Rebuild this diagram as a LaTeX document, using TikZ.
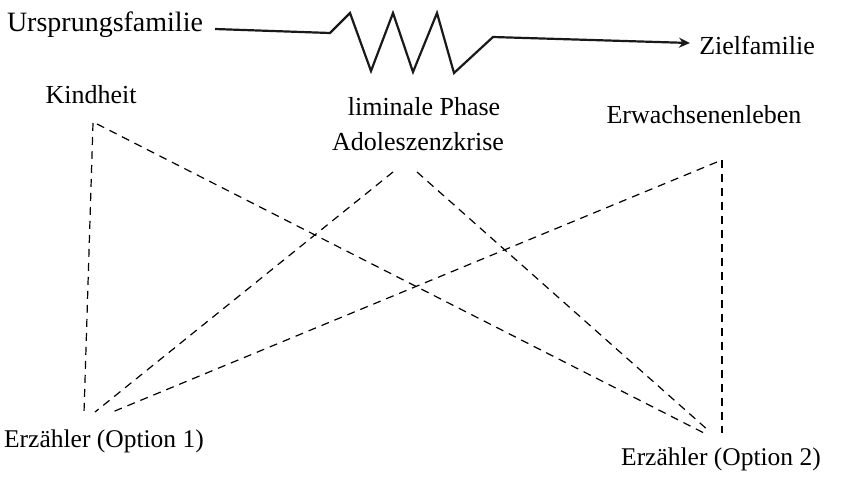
\documentclass[tikz,border=0pt]{standalone}
\usepackage{fontspec}
\setmainfont{Liberation Serif}
\usetikzlibrary{arrows.meta}
\begin{document}
\begin{tikzpicture}[x=1pt,y=-1pt,
  lbl/.style={inner sep=0pt,anchor=base,font=\fontsize{26}{30}\selectfont},
  lblsmall/.style={inner sep=0pt,anchor=base,font=\fontsize{25.5}{29}\selectfont},
  dline/.style={draw=black,line width=1.2pt,dash pattern=on 8pt off 6pt},
  zig/.style={draw=black!90,line width=2.2pt,line join=miter}]
\useasboundingbox (0,0) rectangle (846,477);
\fill[white] (0,0) rectangle (846,477);
% labels
\node[lbl,font=\fontsize{28}{32}\selectfont] (urs) at (105,31) {Ursprungsfamilie};
\node[lbl] (ziel) at (757,54) {Zielfamilie};
\node[lbl] (kind) at (91,103) {Kindheit};
\node[lbl] (lim) at (424,115) {liminale Phase};
\node[lbl] (ado) at (418,150) {Adoleszenzkrise};
\node[lbl] (erw) at (704,123) {Erwachsenenleben};
\node[lblsmall] (erz1) at (104,447) {Erzähler (Option 1)};
\node[lblsmall] (erz2) at (721,465) {Erzähler (Option 2)};
% line end points
\coordinate (zs) at (215,29);
\coordinate (ze) at (690,43);
\coordinate (kt) at (93,123);
\coordinate (kd) at (97,124);
\coordinate (lt1) at (393,172);
\coordinate (lt2) at (417,172);
\coordinate (et) at (722,160);
\coordinate (ed) at (717,162);
\coordinate (b1v) at (84,413);
\coordinate (b1a) at (95,412);
\coordinate (b1b) at (110,413);
\coordinate (b2v) at (722,433);
\coordinate (b2a) at (704,433);
\coordinate (b2b) at (709,431);
% zigzag arrow
\draw[zig,-{Stealth[length=11pt,width=10pt]}] (zs) -- (330,33) -- (350,13) -- (371,71) -- (393,13) -- (413,72) -- (437,13) -- (454,73) -- (493,37) -- (ze);
% dashed connectors
\draw[dline] (kt) -- (b1v);
\draw[dline] (kd) -- (b2a);
\draw[dline] (lt1) -- (b1a);
\draw[dline] (lt2) -- (b2b);
\draw[dline] (ed) -- (b1b);
\draw[dline] (et) -- (b2v);
\end{tikzpicture}
\end{document}
